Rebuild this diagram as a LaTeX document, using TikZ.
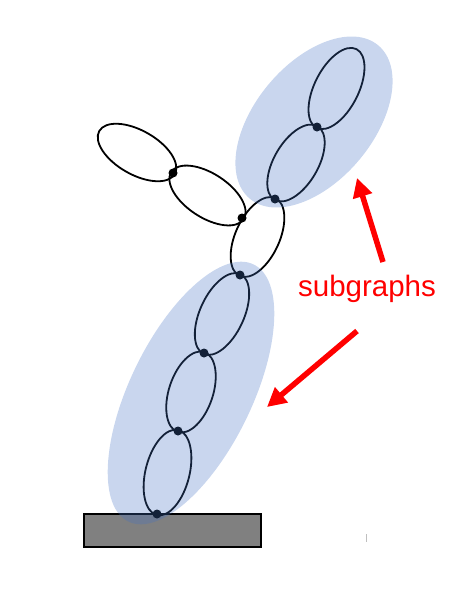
\documentclass[tikz,border=0pt]{standalone}
\usepackage{fontspec}
\setmainfont{Liberation Sans}
\usetikzlibrary{calc,arrows.meta}
\newcommand{\ringloop}[3]{%
  \draw[ringline] let \p1=($(#2)-(#1)$), \n1={atan2(\y1,\x1)}, \n2={veclen(\x1,\y1)/2+#3} in
    ($(#1)!0.5!(#2)$) ellipse [x radius=\n2, y radius=22pt, rotate=\n1];}
\begin{document}
\begin{tikzpicture}[x=1pt,y=-1pt,
  ringline/.style={line width=1.8pt, black},
  joint/.style={fill=black},
  subgraph/.style={fill={rgb,255:red,68;green,114;blue,196}, fill opacity=0.29, draw=none},
  redarrow/.style={draw={rgb,255:red,255;green,0;blue,0}, line width=5.5pt, -{Triangle[width=19pt,length=19pt]}},
  base/.style={fill={rgb,255:red,128;green,128;blue,128}, draw=black, line width=2pt}]
\useasboundingbox (0,0) rectangle (461,592);
% joints
\coordinate (j0) at (157,514);
\coordinate (j1) at (178,431);
\coordinate (j2) at (204,353);
\coordinate (j3) at (240,275);
\coordinate (j4) at (275,199);
\coordinate (j5) at (317,127);
\coordinate (j6) at (356,50);
\coordinate (k1) at (242,218);
\coordinate (k2) at (173,173);
\coordinate (k3) at (101,132);
% base
\node[base, minimum width=177pt, minimum height=33pt, inner sep=0pt, anchor=north west] (plate) at (83,513) {};
% loops
\ringloop{j0}{j1}{1pt}
\ringloop{j1}{j2}{1pt}
\ringloop{j2}{j3}{1pt}
\ringloop{j3}{j4}{1pt}
\ringloop{j4}{j5}{1pt}
\ringloop{j5}{j6}{1pt}
\ringloop{k1}{k2}{2pt}
\ringloop{k2}{k3}{2pt}
% joint dots
\foreach \p in {j0,j1,j2,j3,j4,j5,k1,k2}
  \fill[joint] (\p) circle (4.5pt);
% subgraph regions
\fill[subgraph] (314,122) ellipse [x radius=100pt, y radius=59pt, rotate=50];
\fill[subgraph] (191,393) ellipse [x radius=143pt, y radius=61pt, rotate=64];
% label and arrows
\node[text={rgb,255:red,255;green,0;blue,0}, font=\fontsize{29.5}{34}\selectfont, inner sep=0pt] (lbl) at (367,289) {subgraphs};
\coordinate (a1t) at (383,262);
\coordinate (a1h) at (357,178);
\coordinate (a2t) at (357,331);
\coordinate (a2h) at (267,407);
\draw[redarrow] (a1t) -- (a1h);
\draw[redarrow] (a2t) -- (a2h);
% small mark
\coordinate (m1) at (366,534);
\coordinate (m2) at (366,542);
\draw[gray!50, line width=0.8pt] (m1) -- (m2);
\end{tikzpicture}
\end{document}
